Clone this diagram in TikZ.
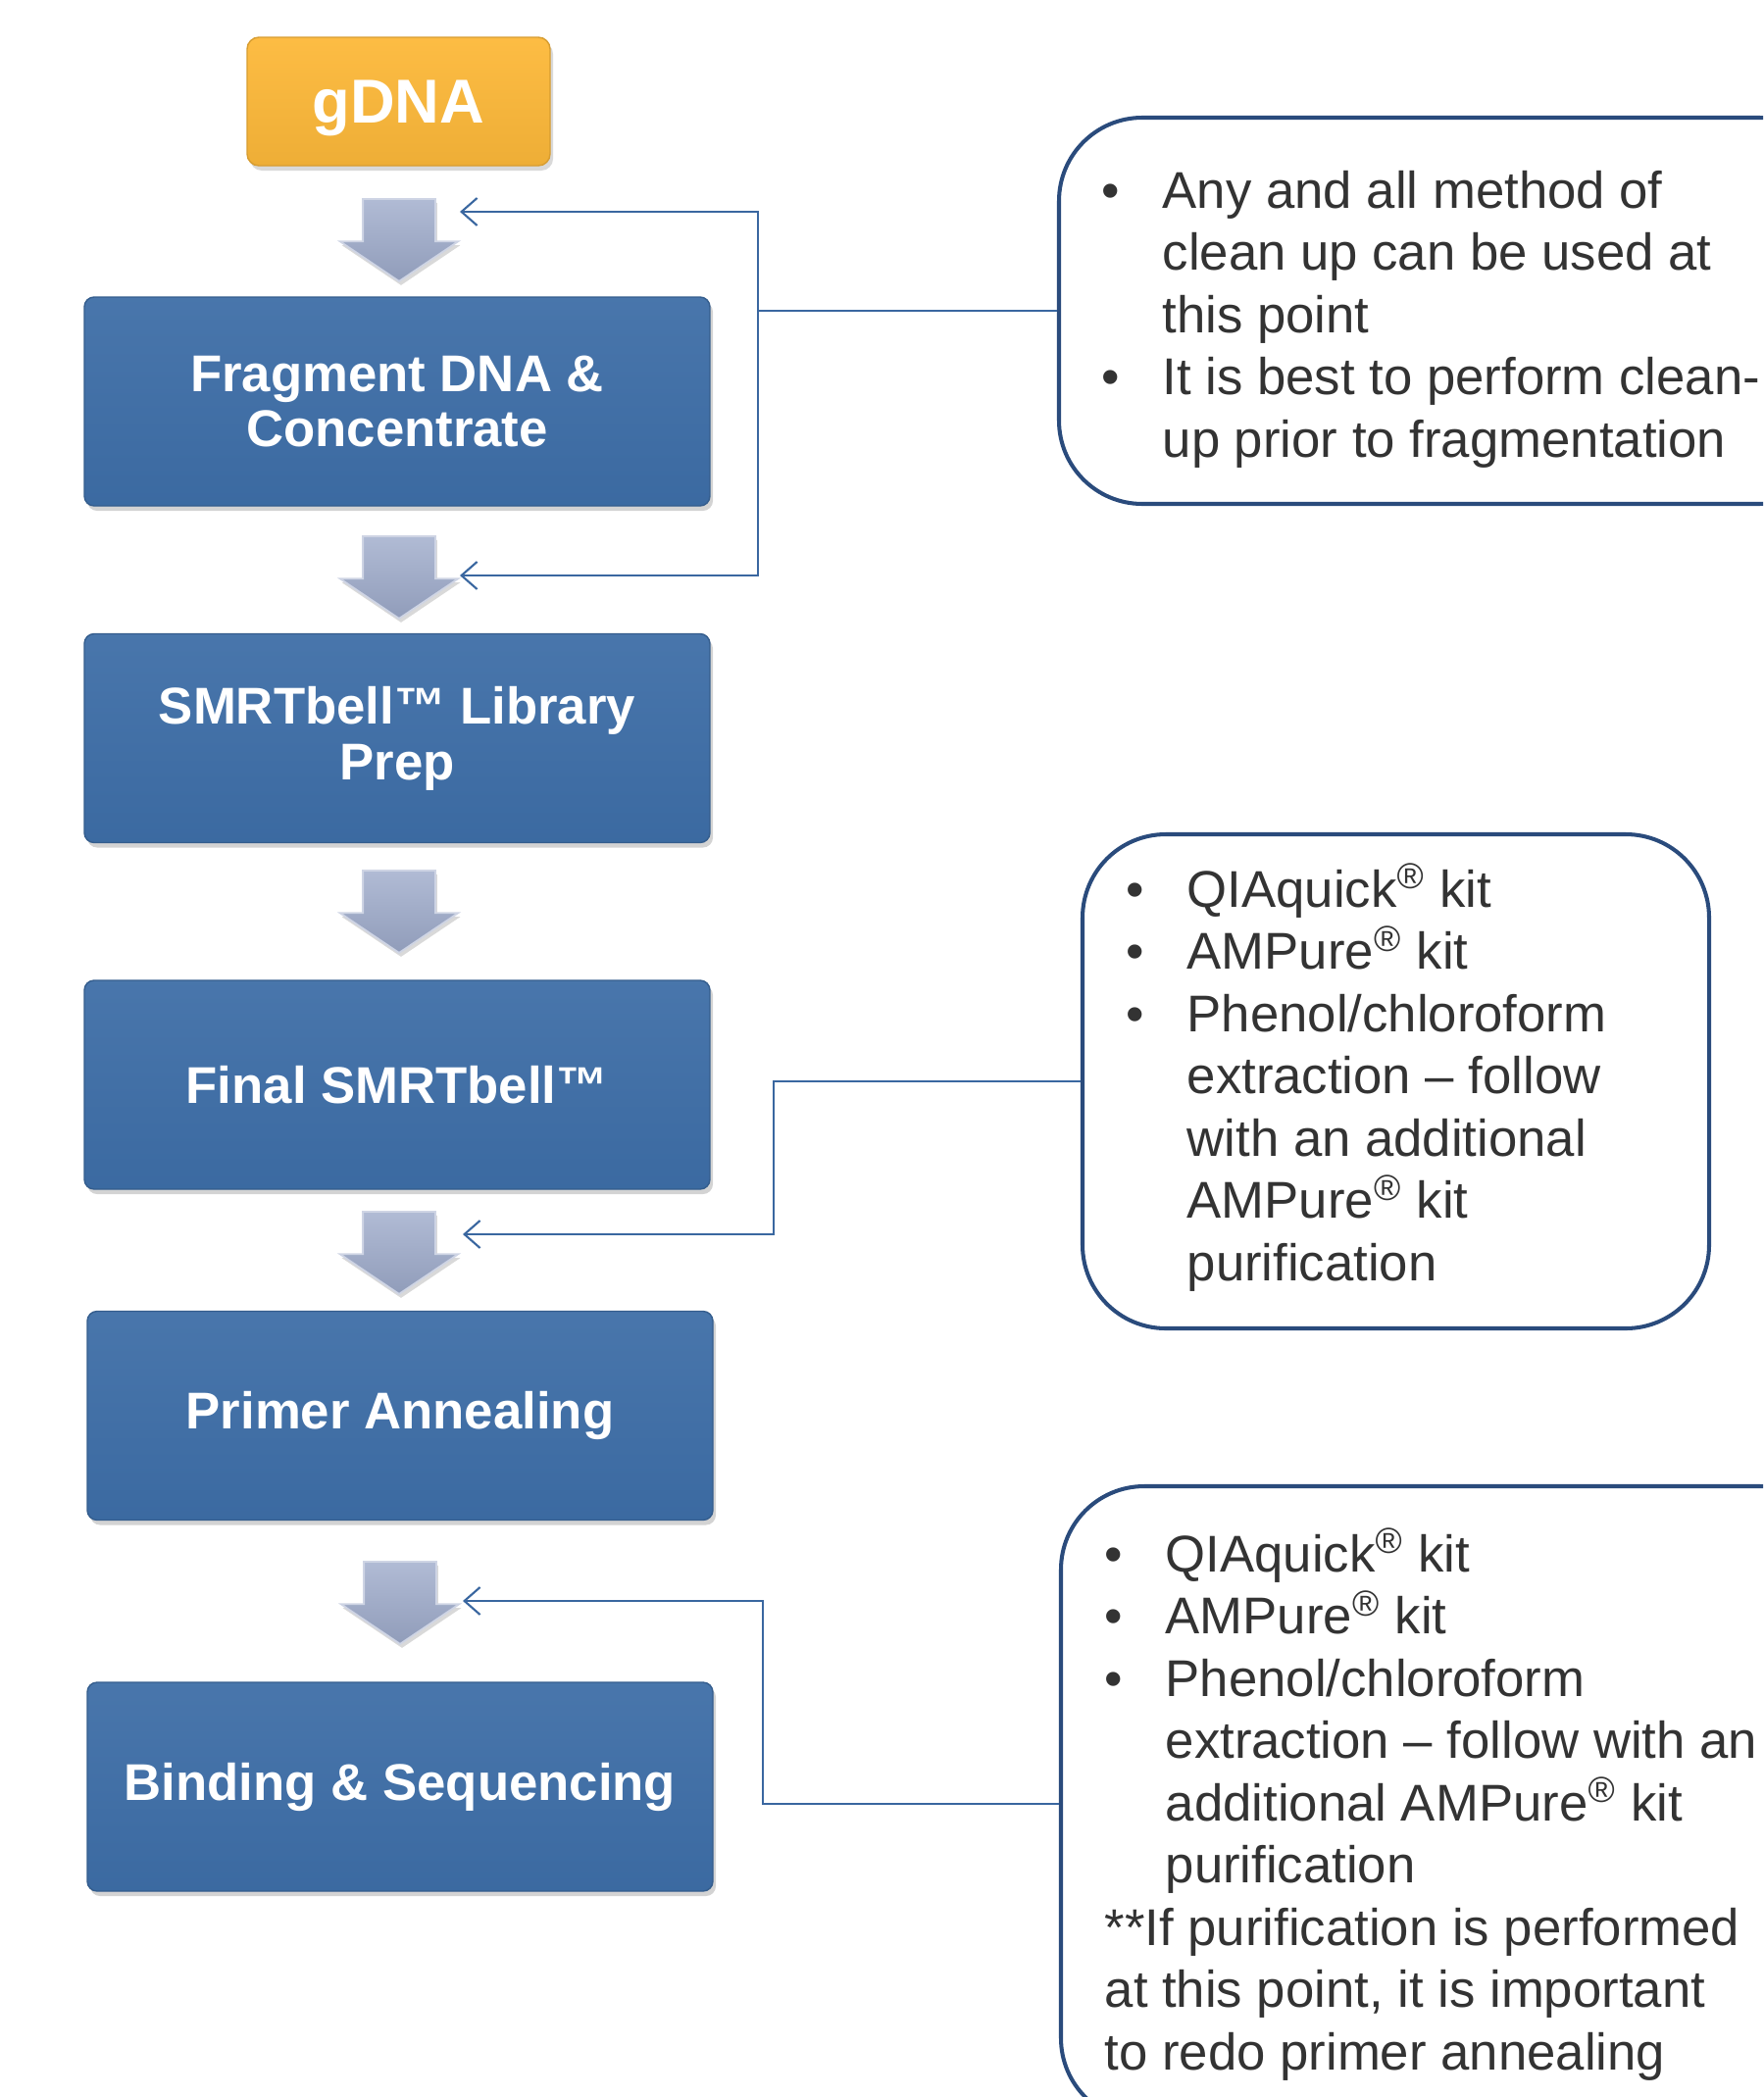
\documentclass[tikz,border=0pt]{standalone}
\usepackage{fontspec}
\setmainfont{Liberation Sans}
\usetikzlibrary{shapes.arrows,shadows,arrows.meta}
\definecolor{stepblue}{HTML}{3D6DA6}
\definecolor{dnagold}{HTML}{FDB93A}
\definecolor{flowgray}{HTML}{9DAACA}
\definecolor{notenavy}{HTML}{2A4B7C}
\definecolor{linkblue}{HTML}{3A67A0}
\definecolor{notegray}{HTML}{333333}

\begin{document}
\begin{tikzpicture}[
  goldbox/.style = {rounded corners=0.12cm, minimum width=3.09cm, minimum height=1.31cm,
    top color=dnagold!95!white, bottom color=dnagold!94!black, draw=dnagold!85!black, line width=0.4pt,
    drop shadow={shadow xshift=0.03cm, shadow yshift=-0.05cm, opacity=0.3},
    text=white, text depth=0pt, font=\fontsize{18}{20}\selectfont\bfseries},
  stepbox/.style = {rounded corners=0.1cm, minimum width=6.38cm, minimum height=2.13cm,
    top color=stepblue!94!white, bottom color=stepblue!97!black, draw=stepblue!85!black, line width=0.4pt,
    drop shadow={shadow xshift=0.03cm, shadow yshift=-0.05cm, opacity=0.35},
    text=white, font=\fontsize{15}{16.2}\selectfont\bfseries, align=center},
  downarrow/.style = {single arrow, shape border rotate=270, anchor=tail,
    minimum height=0.84cm, minimum width=1.19cm, single arrow head extend=0.235cm,
    single arrow tip angle=112, inner xsep=0.36cm, inner ysep=0pt,
    top color=flowgray!80!white, bottom color=flowgray!92!black, draw=flowgray!50!white, line width=0.5pt,
    drop shadow={shadow xshift=0.02cm, shadow yshift=-0.04cm, opacity=0.3}},
  note/.style = {draw=notenavy, line width=1.15pt, rounded corners=0.85cm, fill=white},
  notetext/.style = {text=notegray, font=\fontsize{15}{18.07}\selectfont, inner sep=0pt, anchor=base west},
  link/.style = {draw=linkblue, line width=0.6pt},
  arrow/.style = {link, -{Straight Barb[length=1.6mm,width=2.8mm]}}
]
\useasboundingbox (0,0) rectangle (17.98,-21.39);
\clip (0,0) rectangle (17.98,-21.39);

\node[goldbox] (gdna) at (4.065,-1.035) {gDNA};

\node[downarrow] (a1) at (4.07,-2.02) {};
\node[stepbox] (frag) at (4.05,-4.095) {Fragment DNA \&\\Concentrate};
\node[downarrow] (a2) at (4.07,-5.46) {};
\node[stepbox] (prep) at (4.05,-7.53) {SMRTbell™ Library\\Prep};
\node[downarrow] (a3) at (4.07,-8.87) {};
\node[stepbox] (final) at (4.05,-11.065) {Final SMRTbell™};
\node[downarrow] (a4) at (4.07,-12.35) {};
\node[stepbox] (primer) at (4.08,-14.44) {Primer Annealing};
\node[downarrow] (a5) at (4.08,-15.92) {};
\node[stepbox] (bind) at (4.08,-18.225) {Binding \& Sequencing};

\node[note, minimum width=7.99cm, minimum height=3.94cm] (c1) at (14.795,-3.17) {};
\node[note, minimum width=6.39cm, minimum height=5.04cm] (c2) at (14.235,-11.03) {};
\node[note, minimum width=7.98cm, minimum height=6.48cm] (c3) at (14.81,-18.4) {};

\node[notetext] (t1) at (11.23,-2.12) {\begin{tabular}[t]{@{}p{0.62cm}@{}l@{}}
\textbullet & Any and all method of\\
 & clean up can be used at\\
 & this point\\
\textbullet & It is best to perform clean-\\
 & up prior to fragmentation
\end{tabular}};
\node[notetext] (t2) at (11.48,-9.25) {\begin{tabular}[t]{@{}p{0.62cm}@{}l@{}}
\textbullet & QIAquick\textsuperscript{®} kit\\
\textbullet & AMPure\textsuperscript{®} kit\\
\textbullet & Phenol/chloroform\\
 & extraction – follow\\
 & with an additional\\
 & AMPure\textsuperscript{®} kit\\
 & purification
\end{tabular}};
\node[notetext] (t3) at (11.26,-16.03) {\begin{tabular}[t]{@{}p{0.62cm}@{}l@{}}
\textbullet & QIAquick\textsuperscript{®} kit\\
\textbullet & AMPure\textsuperscript{®} kit\\
\textbullet & Phenol/chloroform\\
 & extraction – follow with an\\
 & additional AMPure\textsuperscript{®} kit\\
 & purification\\
\multicolumn{2}{@{}l@{}}{**If purification is performed}\\
\multicolumn{2}{@{}l@{}}{at this point, it is important}\\
\multicolumn{2}{@{}l@{}}{to redo primer annealing}
\end{tabular}};

\coordinate (j1) at (7.73,-3.17);
\coordinate (j2) at (7.89,-11.03);
\coordinate (j3) at (7.78,-18.4);

\draw[link] (c1.west) -- (j1);
\draw[arrow] (j1) |- ([shift={(0.62,-0.14)}]a1.tail);
\draw[arrow] (j1) |- ([shift={(0.62,-0.41)}]a2.tail);
\draw[arrow] (c2.west) -- (j2) |- ([shift={(0.65,-0.24)}]a4.tail);
\draw[arrow] (c3.west) -- (j3) |- ([shift={(0.64,-0.41)}]a5.tail);
\end{tikzpicture}
\end{document}
